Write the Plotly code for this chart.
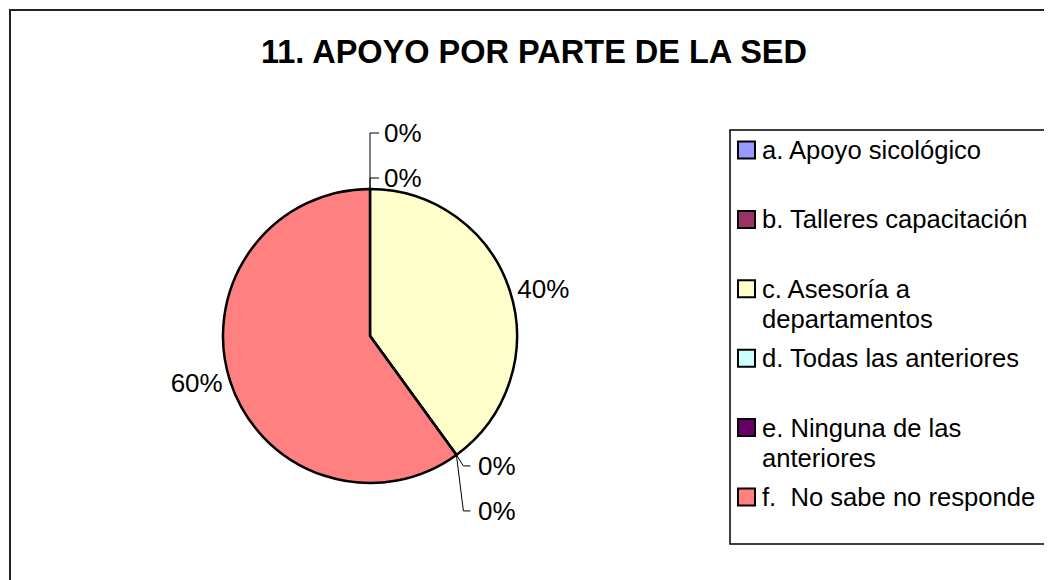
import math
import plotly.graph_objects as go

# ---------------- data ----------------
categories = [
    "a. Apoyo sicológico",
    "b. Talleres capacitación",
    "c. Asesoría a departamentos",
    "d. Todas las anteriores",
    "e. Ninguna de las anteriores",
    "f.  No sabe no responde",
]
legend_lines = [
    ["a. Apoyo sicológico"],
    ["b. Talleres capacitación"],
    ["c. Asesoría a", "departamentos"],
    ["d. Todas las anteriores"],
    ["e. Ninguna de las", "anteriores"],
    ["f.  No sabe no responde"],
]
values = [0, 0, 40, 0, 0, 60]
colors = ["#9999FF", "#993366", "#FFFFCC", "#CCFFFF", "#660066", "#FF8080"]
title = "11. APOYO POR PARTE DE LA SED"

# ---------------- layout helpers ----------------
OFF = 8  # page body margin
W, H = 1052 - OFF, 580 - OFF
FONT = "Liberation Sans, Arial, sans-serif"


def px(x):
    return (x - OFF) / W


def py(y):
    return 1 - (y - OFF) / H


cx, cy, r = 370, 336, 147
total = sum(values)

texts = ["%{percent:.0%}" if v > 0 else "" for v in values]

fig = go.Figure()
fig.add_trace(go.Pie(
    labels=categories,
    values=values,
    sort=False,
    direction="clockwise",
    rotation=0,
    marker=dict(colors=colors, line=dict(color="black", width=2.5)),
    texttemplate=texts,
    textposition="outside",
    outsidetextfont=dict(size=26, color="black", family=FONT),
    domain=dict(x=[px(cx - r), px(cx + r)], y=[py(cy + r), py(cy - r)]),
    showlegend=False,
    hoverinfo="label+percent",
))

shapes = []
annotations = []

# outer frame
shapes.append(dict(type="rect", xref="paper", yref="paper",
                   x0=px(10), x1=px(1080), y0=py(610), y1=py(10),
                   line=dict(color="#222222", width=2), fillcolor="rgba(0,0,0,0)"))

# title
annotations.append(dict(text="<b>" + title + "</b>", x=px(534), y=py(52),
                        xref="paper", yref="paper", showarrow=False,
                        xanchor="center", yanchor="middle",
                        font=dict(size=32.5, color="black", family=FONT)))

# zero-value labels with leader lines
groups = {}
cum = 0
for i, v in enumerate(values):
    if v == 0:
        groups.setdefault(cum, []).append(i)
    cum += v
for c, idxs in groups.items():
    theta = 2 * math.pi * c / total
    ax = cx + r * math.sin(theta)
    ay = cy - r * math.cos(theta)
    n = len(idxs)
    for k, i in enumerate(idxs):
        pct = "{:.0%}".format(values[i] / total)
        if math.cos(theta) > 0:  # upper half: stack upward
            ly = ay - 11 - 45 * (n - 1 - k)
            ex, tx, txt_x = ax, ax + 9, ax + 12
        else:  # lower half: stack downward
            ly = ay + 11 + 45 * k
            ex, tx, txt_x = ax + 7, ax + 14, ax + 20
        shapes.append(dict(type="path", xref="paper", yref="paper",
                           path="M {},{} L {},{} L {},{}".format(
                               px(ax), py(ay), px(ex), py(ly), px(tx), py(ly)),
                           line=dict(color="black", width=1)))
        annotations.append(dict(text=pct, x=px(txt_x), y=py(ly),
                                xref="paper", yref="paper", showarrow=False,
                                xanchor="left", yanchor="middle",
                                font=dict(size=26, color="black", family=FONT)))

# legend box
shapes.append(dict(type="rect", xref="paper", yref="paper",
                   x0=px(730), x1=px(1080), y0=py(544), y1=py(130),
                   line=dict(color="black", width=1.5), fillcolor="white",
                   layer="below"))
y0_leg, step, line_h = 150, 69.4, 30
for i, lines in enumerate(legend_lines):
    yc = y0_leg + step * i
    shapes.append(dict(type="rect", xref="paper", yref="paper",
                       x0=px(738), x1=px(755), y0=py(yc + 8.5), y1=py(yc - 8.5),
                       line=dict(color="black", width=2), fillcolor=colors[i]))
    for j, t in enumerate(lines):
        annotations.append(dict(text=t, x=px(760), y=py(yc + line_h * j),
                                xref="paper", yref="paper", showarrow=False,
                                xanchor="left", yanchor="middle",
                                font=dict(size=25.6, color="black", family=FONT)))

fig.update_layout(
    width=W, height=H,
    margin=dict(l=0, r=0, t=0, b=0),
    paper_bgcolor="white", plot_bgcolor="white",
    shapes=shapes, annotations=annotations,
    font=dict(family=FONT),
)
fig.write_html("out.html")
